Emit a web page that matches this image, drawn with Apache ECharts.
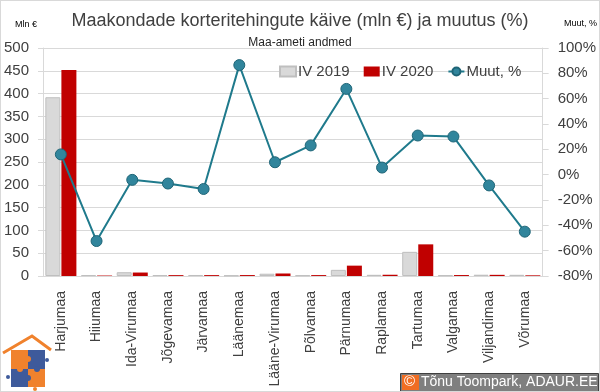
<!DOCTYPE html>
<html><head><meta charset="utf-8">
<script src="https://cdn.jsdelivr.net/npm/echarts@6/dist/echarts.min.js"></script>
<style>html,body{margin:0;padding:0;background:#fff}#c{width:600px;height:392px;box-sizing:border-box;border:1px solid #d9d9d9}</style>
</head><body><div id="c"></div>
<script>
const categories = ['Harjumaa','Hiiumaa','Ida-Virumaa','Jõgevamaa','Järvamaa','Läänemaa','Lääne-Virumaa','Põlvamaa','Pärnumaa','Raplamaa','Tartumaa','Valgamaa','Viljandimaa','Võrumaa'];
const iv2019 = [392, 2.0, 8.3, 2.0, 2.2, 1.1, 5.0, 1.6, 13.5, 2.6, 53, 1.6, 2.8, 2.6];
const iv2020 = [452, 1.0, 7.6, 1.9, 1.95, 2.05, 5.5, 2.0, 22.7, 2.75, 69.4, 2.1, 2.55, 1.45];
const muut = [16.0, -52.4, -4.1, -7.0, -11.3, 86.5, 9.8, 23.1, 67.7, 5.6, 30.9, 30.1, -8.5, -45.0];
const leftTicks = {min: 0, max: 500, interval: 50};
const rightTicks = {min: -80, max: 100, interval: 20};

const FONT = 'Liberation Sans';
const TXT = '#404040';
const chart = echarts.init(document.getElementById('c'), null, {renderer: 'canvas'});
chart.setOption({
  animation: false,
  textStyle: {fontFamily: FONT},
  title: [
    {text: 'Maakondade korteritehingute käive (mln €) ja muutus (%)', left: 'center', top: 6,
     textStyle: {fontFamily: FONT, fontSize: 18, fontWeight: 'normal', color: TXT}},
    {text: 'Maa-ameti andmed', left: 'center', top: 31,
     textStyle: {fontFamily: FONT, fontSize: 12, fontWeight: 'normal', color: '#262626'}},
    {text: 'Mln €', left: 9, top: 14, textStyle: {fontFamily: FONT, fontSize: 9, fontWeight: 'normal', color: '#000'}},
    {text: 'Muut, %', left: 558, top: 13, textStyle: {fontFamily: FONT, fontSize: 9, fontWeight: 'normal', color: '#000'}}
  ],
  legend: {
    left: 273, top: 58, itemGap: 14, itemWidth: 16, itemHeight: 10,
    textStyle: {fontFamily: FONT, fontSize: 15, color: TXT, padding: [0,0,0,-3]},
    data: [{name: 'IV 2019', icon: 'rect'}, {name: 'IV 2020', icon: 'rect'}, {name: 'Muut, %'}]
  },
  grid: {left: 41, right: 54, top: 47, bottom: 115, containLabel: false},
  xAxis: {
    type: 'category', data: categories,
    axisLine: {show: true, lineStyle: {color: '#d9d9d9'}},
    axisTick: {show: false},
    axisLabel: {rotate: 90, interval: 0, fontSize: 14, color: TXT, margin: 15, fontFamily: FONT}
  },
  yAxis: [
    {type: 'value', min: leftTicks.min, max: leftTicks.max, interval: leftTicks.interval,
     axisLine: {show: true, lineStyle: {color: '#d9d9d9'}},
     axisTick: {show: true, length: 5, lineStyle: {color: '#d9d9d9'}},
     splitLine: {show: true, lineStyle: {color: '#d9d9d9'}},
     axisLabel: {fontSize: 15, color: TXT, margin: 14, fontFamily: FONT}},
    {type: 'value', min: rightTicks.min, max: rightTicks.max, interval: rightTicks.interval,
     axisLine: {show: true, lineStyle: {color: '#d9d9d9'}},
     axisTick: {show: true, length: 6, lineStyle: {color: '#d9d9d9'}},
     splitLine: {show: false},
     axisLabel: {fontSize: 15, color: TXT, margin: 15, fontFamily: FONT, formatter: '{value}%'}}
  ],
  series: [
    {name: 'IV 2019', type: 'bar', data: iv2019, barWidth: 15, barGap: '7%',
     itemStyle: {color: '#d9d9d9', borderColor: '#bfbfbf', borderWidth: 1}},
    {name: 'IV 2020', type: 'bar', data: iv2020, barWidth: 15,
     itemStyle: {color: '#c00000', borderColor: '#c00000', borderWidth: 0}},
    {name: 'Muut, %', type: 'line', yAxisIndex: 1, data: muut, symbol: 'circle', symbolSize: 11,
     lineStyle: {color: '#1f7a8c', width: 2},
     itemStyle: {color: '#31859c', borderColor: '#1f6577', borderWidth: 1}, z: 5}
  ],
  graphic: [
    {type: 'polyline', shape: {points: [[2,352],[31,335],[50,349]]}, style: {stroke: '#f0822d', lineWidth: 3, fill: null}},
    {type: 'rect', shape: {x: 10, y: 349, width: 17, height: 19}, style: {fill: '#f0822d'}},
    {type: 'rect', shape: {x: 27, y: 349, width: 17, height: 19}, style: {fill: '#3e5a9b'}},
    {type: 'rect', shape: {x: 10, y: 368, width: 17, height: 18}, style: {fill: '#3e5a9b'}},
    {type: 'rect', shape: {x: 27, y: 368, width: 17, height: 18}, style: {fill: '#f0822d'}},
    {type: 'circle', shape: {cx: 27, cy: 358, r: 3}, style: {fill: '#f0822d'}},
    {type: 'circle', shape: {cx: 19, cy: 368, r: 3}, style: {fill: '#f0822d'}},
    {type: 'circle', shape: {cx: 36, cy: 368, r: 3}, style: {fill: '#3e5a9b'}},
    {type: 'circle', shape: {cx: 27, cy: 377, r: 3}, style: {fill: '#3e5a9b'}},
    {type: 'circle', shape: {cx: 7, cy: 376, r: 2}, style: {fill: '#3e5a9b'}},
    {type: 'circle', shape: {cx: 46, cy: 359, r: 2}, style: {fill: '#3e5a9b'}},
    {type: 'circle', shape: {cx: 34, cy: 388, r: 2}, style: {fill: '#f0822d'}},
    {type: 'rect', shape: {x: 399.5, y: 372.5, width: 198, height: 18}, style: {fill: '#7f7f7f', stroke: '#404040', lineWidth: 1}},
    {type: 'rect', shape: {x: 401, y: 374, width: 17, height: 15}, style: {fill: '#f06d22'}},
    {type: 'text', left: 403, top: 373, style: {text: '©', fill: '#fff', font: '15px "Liberation Sans"'}},
    {type: 'text', left: 420, top: 374, style: {text: 'Tõnu Toompark, ADAUR.EE', fill: '#fff', font: '14px "Liberation Sans"'}}
  ]
});
</script></body></html>
